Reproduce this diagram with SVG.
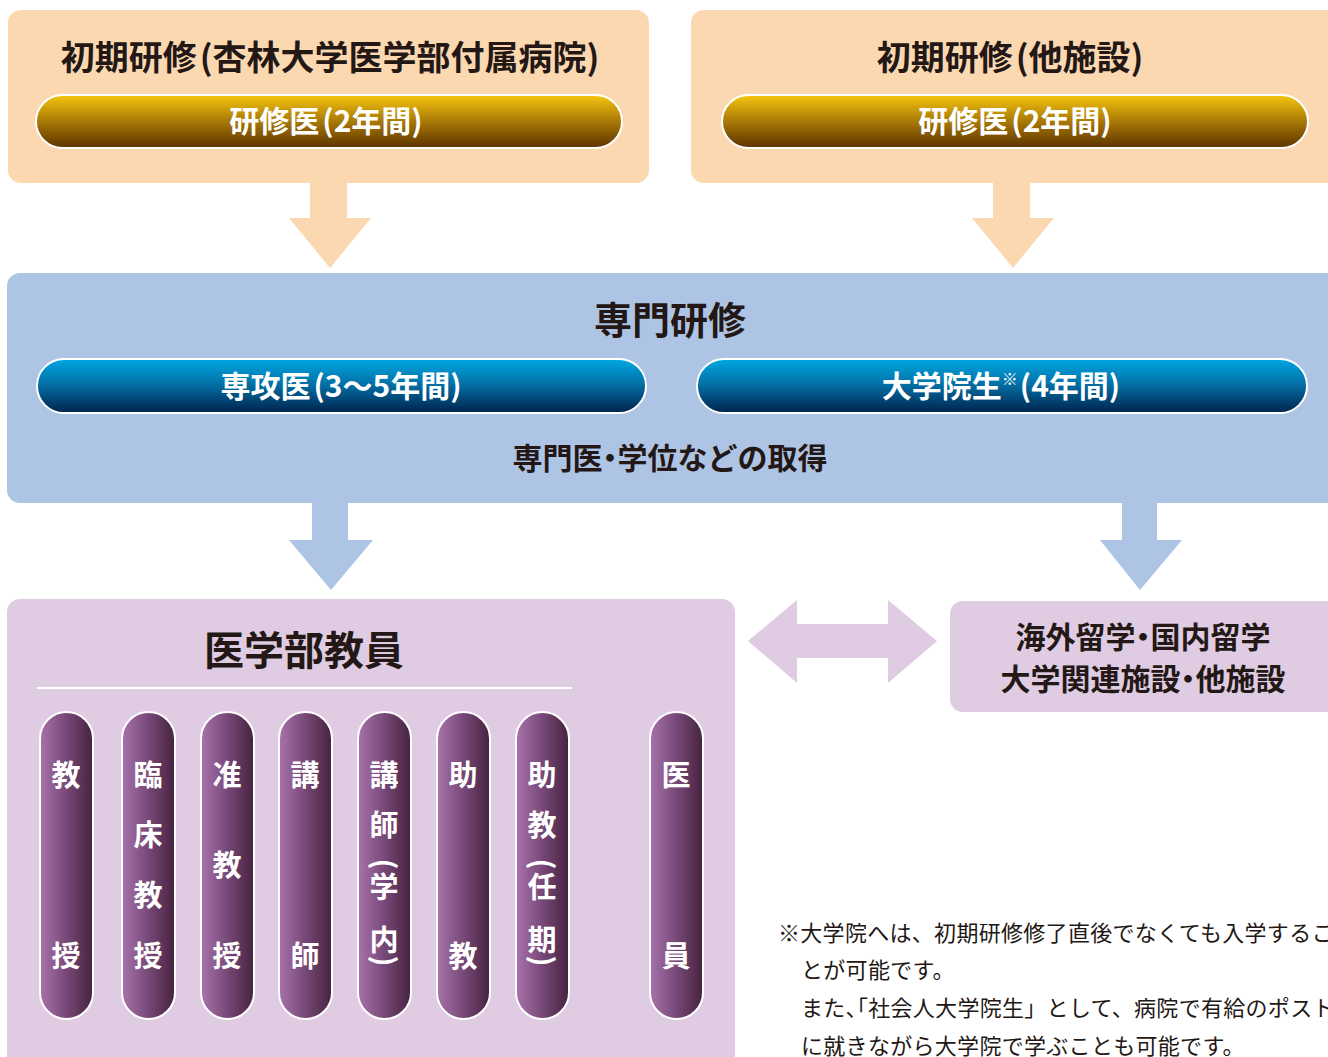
<svg xmlns="http://www.w3.org/2000/svg" width="1328" height="1057" viewBox="0 0 1328 1057">
<defs>
<linearGradient id="gGold" x1="0" y1="0" x2="0" y2="1">
<stop offset="0" stop-color="#f6c70f"/><stop offset="0.45" stop-color="#b07f06"/><stop offset="1" stop-color="#5c3300"/>
</linearGradient>
<linearGradient id="gBlue" x1="0" y1="0" x2="0" y2="1">
<stop offset="0" stop-color="#00a8e4"/><stop offset="0.45" stop-color="#0372a8"/><stop offset="1" stop-color="#00234d"/>
</linearGradient>
<linearGradient id="gPurple" x1="0" y1="0" x2="1" y2="0">
<stop offset="0" stop-color="#a873ab"/><stop offset="0.5" stop-color="#774877"/><stop offset="1" stop-color="#45233f"/>
</linearGradient>
<style>
.jp{font-family:"Noto Sans CJK JP","Noto Sans CJK SC",sans-serif;}
.ttl{font-weight:700;fill:#231815;text-anchor:middle;}
.halt{font-feature-settings:"halt" 1;}
.pt{font-weight:700;fill:#ffffff;text-anchor:middle;font-size:30px;}
.vt{font-weight:700;fill:#ffffff;text-anchor:middle;font-size:29px;}
.note{font-weight:400;fill:#231815;font-size:22px;letter-spacing:0.3px;}
.peach{fill:#fcd8b1;}
.blue{fill:#aec4e4;}
.lav{fill:#dfcbe2;}
.pill{stroke:#ffffff;stroke-width:2;}
</style>
</defs>

<g id="connectors">
<polygon class="peach" points="310,183 347,183 347,218 371,218 330,268 289,218 310,218"/>
<polygon class="peach" points="993,183 1030,183 1030,218 1054,218 1013,268 972,218 993,218"/>
<polygon class="blue" points="312,503 348,503 348,540 373,540 331,590 289,540 312,540"/>
<polygon class="blue" points="1122,503 1157,503 1157,540 1182,540 1140,590 1100,540 1122,540"/>
<polygon class="lav" points="748,641 797,600 797,624 888,624 888,600 937,641 888,683 888,658 797,658 797,683"/>
</g>

<g id="node-shoki-kyorin">
<rect class="peach" x="8" y="10" width="641" height="173" rx="13"/>
<text class="jp ttl" x="330" y="70" font-size="34">初期研修<tspan dx="3">(</tspan>杏林大学医学部付属病院)</text>
<rect class="pill" x="36" y="95" width="586" height="53" rx="26.5" fill="url(#gGold)"/>
<text class="jp pt" x="326" y="132">研修医<tspan dx="3">(</tspan>2年間)</text>
</g>

<g id="node-shoki-other">
<rect class="peach" x="691" y="10" width="650" height="173" rx="13"/>
<text class="jp ttl" x="1010" y="70" font-size="34">初期研修<tspan dx="3">(</tspan>他施設)</text>
<rect class="pill" x="722" y="95" width="586" height="53" rx="26.5" fill="url(#gGold)"/>
<text class="jp pt" x="1015" y="132">研修医<tspan dx="3">(</tspan>2年間)</text>
</g>

<g id="node-senmon">
<rect class="blue" x="7" y="273" width="1340" height="230" rx="13"/>
<text class="jp ttl" x="670" y="334" font-size="38">専門研修</text>
<rect class="pill" x="37" y="359" width="609" height="54" rx="27" fill="url(#gBlue)"/>
<text class="jp pt" x="341" y="397">専攻医<tspan dx="3">(</tspan>3〜5年間)</text>
<rect class="pill" x="697" y="359" width="610" height="54" rx="27" fill="url(#gBlue)"/>
<text class="jp pt" x="1001" y="397">大学院生<tspan font-size="16" dy="-12">※</tspan><tspan dy="12" dx="2">(4年間)</tspan></text>
<text class="jp ttl halt" x="670" y="469" font-size="30">専門医・学位などの取得</text>
</g>

<g id="node-kyoin">
<rect class="lav" x="7" y="599" width="728" height="480" rx="13"/>
<text class="jp ttl" x="304" y="665" font-size="40">医学部教員</text>
<line x1="37" y1="688" x2="572" y2="688" stroke="#ffffff" stroke-width="2"/>

<rect class="pill" x="40" y="712" width="53" height="307" rx="26.5" fill="url(#gPurple)"/>
<text class="jp vt" x="66" y="786">教</text>
<text class="jp vt" x="66" y="967">授</text>

<rect class="pill" x="122" y="712" width="53" height="307" rx="26.5" fill="url(#gPurple)"/>
<text class="jp vt" x="148" y="786">臨</text>
<text class="jp vt" x="148" y="846">床</text>
<text class="jp vt" x="148" y="906">教</text>
<text class="jp vt" x="148" y="967">授</text>

<rect class="pill" x="201" y="712" width="53" height="307" rx="26.5" fill="url(#gPurple)"/>
<text class="jp vt" x="227" y="786">准</text>
<text class="jp vt" x="227" y="876">教</text>
<text class="jp vt" x="227" y="967">授</text>

<rect class="pill" x="279" y="712" width="53" height="307" rx="26.5" fill="url(#gPurple)"/>
<text class="jp vt" x="305" y="786">講</text>
<text class="jp vt" x="305" y="967">師</text>

<rect class="pill" x="358" y="712" width="53" height="307" rx="26.5" fill="url(#gPurple)"/>
<text class="jp vt" x="384" y="786">講</text>
<text class="jp vt" x="384" y="836">師</text>
<text class="jp vt" x="384" y="874" font-size="26" font-weight="400" transform="rotate(90 384 864)">(</text>
<text class="jp vt" x="384" y="898">学</text>
<text class="jp vt" x="384" y="951">内</text>
<text class="jp vt" x="384" y="971" font-size="26" font-weight="400" transform="rotate(90 384 961)">)</text>

<rect class="pill" x="437" y="712" width="53" height="307" rx="26.5" fill="url(#gPurple)"/>
<text class="jp vt" x="463" y="786">助</text>
<text class="jp vt" x="463" y="967">教</text>

<rect class="pill" x="516" y="712" width="53" height="307" rx="26.5" fill="url(#gPurple)"/>
<text class="jp vt" x="542" y="786">助</text>
<text class="jp vt" x="542" y="836">教</text>
<text class="jp vt" x="542" y="874" font-size="26" font-weight="400" transform="rotate(90 542 864)">(</text>
<text class="jp vt" x="542" y="898">任</text>
<text class="jp vt" x="542" y="951">期</text>
<text class="jp vt" x="542" y="971" font-size="26" font-weight="400" transform="rotate(90 542 961)">)</text>

<rect class="pill" x="650" y="712" width="53" height="307" rx="26.5" fill="url(#gPurple)"/>
<text class="jp vt" x="676" y="786">医</text>
<text class="jp vt" x="676" y="967">員</text>
</g>

<g id="node-ryugaku">
<rect class="lav" x="950" y="601" width="400" height="111" rx="13"/>
<text class="jp ttl halt" x="1143" y="648" font-size="30">海外留学・国内留学</text>
<text class="jp ttl halt" x="1143" y="690" font-size="30">大学関連施設・他施設</text>
</g>

<g id="note">
<text class="jp note" x="778" y="941">※大学院へは、初期研修修了直後でなくても入学するこ</text>
<text class="jp note" x="801" y="978">とが可能です。</text>
<text class="jp note" x="801" y="1016">また<tspan class="halt">、「</tspan>社会人大学院生」として、病院で有給のポスト</text>
<text class="jp note" x="801" y="1054">に就きながら大学院で学ぶことも可能です。</text>
</g>
</svg>
